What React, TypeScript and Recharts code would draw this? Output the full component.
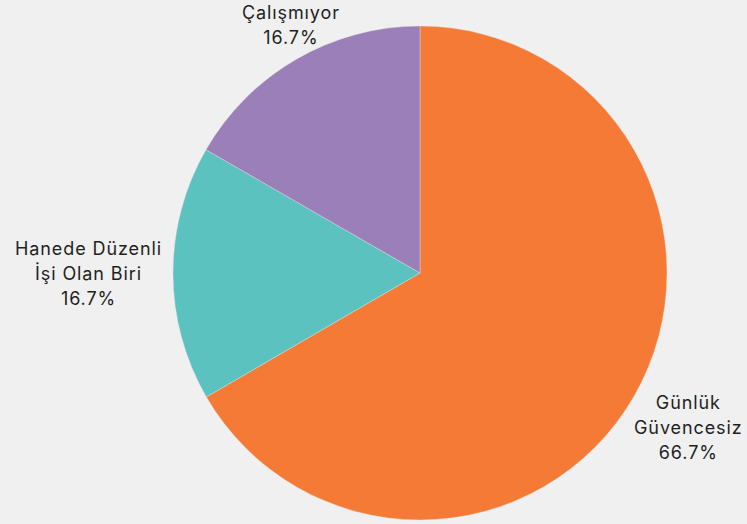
import { Cell, Pie, PieChart } from "recharts";

const categories = ["Günlük Güvencesiz", "Hanede Düzenli İşi Olan Biri", "Çalışmıyor"];
const labelLines = [["Günlük", "Güvencesiz"], ["Hanede Düzenli", "İşi Olan Biri"], ["Çalışmıyor"]];
const shares = [66.7, 16.7, 16.7];
const colors = ["#F47A35", "#5BC2C0", "#9B7FB8"];

const data = categories.map((name, i) => ({ name, value: shares[i] }));

const FONT = "Inter, 'Open Sans', sans-serif";
const FONT_SIZE = 18;
const LETTER = 0.9;
const LINE_H = 25;
const RADIAN = Math.PI / 180;

let ctx: CanvasRenderingContext2D | null = null;
function textWidth(s: string) {
  if (!ctx) ctx = document.createElement("canvas").getContext("2d");
  if (!ctx) return s.length * 10;
  ctx.font = `${FONT_SIZE}px Inter`;
  return ctx.measureText(s).width + s.length * LETTER;
}

function OutsideLabel(props: any) {
  const { cx, cy, midAngle, outerRadius, index } = props;
  const lines = [...labelLines[index], `${shares[index].toFixed(1)}%`];
  const cos = Math.cos(-midAngle * RADIAN);
  const sin = Math.sin(-midAngle * RADIAN);
  const gap = cos > 0.6 && sin > 0.3 ? 0 : 11;
  const px = cx + (outerRadius + gap) * cos;
  const py = cy + (outerRadius + gap) * sin;
  const w = Math.max(...lines.map(textWidth));
  const h = lines.length * LINE_H;
  let centerX = px;
  if (cos > 0.6) centerX = px + w / 2;
  else if (cos < -0.6) centerX = px - w / 2;
  let top = py - h / 2;
  if (sin < -0.3) top = py - h;
  else if (sin > 0.3) top = py - 6;
  return (
    <text
      x={centerX}
      y={top}
      textAnchor="middle"
      fill="#1f1f1f"
      fontFamily={FONT}
      fontSize={FONT_SIZE}
      letterSpacing={LETTER}
    >
      {lines.map((l, i) => (
        <tspan key={i} x={centerX} y={top + LINE_H * i + LINE_H / 2} dominantBaseline="central">
          {l}
        </tspan>
      ))}
    </text>
  );
}

export default function App() {
  return (
    <div style={{ position: "absolute", left: 0, top: 0, width: 747, height: 524, background: "#EFF0EF" }}>
      <PieChart width={747} height={524} margin={{ top: 0, right: 0, bottom: 0, left: 0 }}>
        <Pie
          data={data}
          dataKey="value"
          nameKey="name"
          cx={420}
          cy={273}
          outerRadius={247}
          startAngle={90}
          endAngle={-270}
          stroke="#e4e4e4"
          strokeWidth={0.4}
          label={OutsideLabel}
          labelLine={false}
          isAnimationActive={false}
        >
          {data.map((d, i) => (
            <Cell key={d.name} fill={colors[i]} />
          ))}
        </Pie>
      </PieChart>
    </div>
  );
}
